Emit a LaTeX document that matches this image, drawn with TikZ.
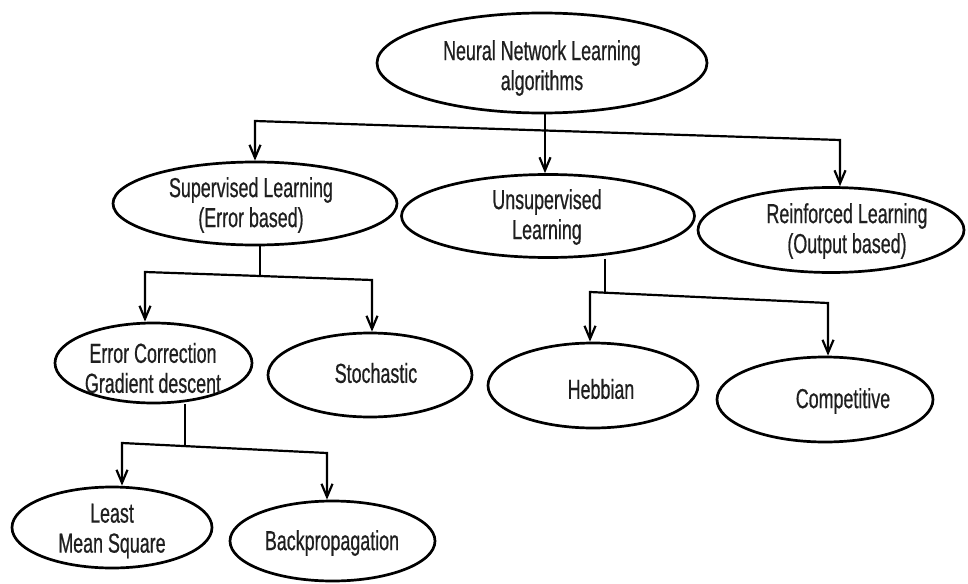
\documentclass[tikz,border=0pt]{standalone}
\usepackage{fontspec}
\setmainfont{Liberation Sans}[FakeStretch=0.65,FakeBold=0.6]
\usetikzlibrary{shapes.geometric,arrows.meta}
\begin{document}
\begin{tikzpicture}[x=1pt,y=-1pt,
  ell/.style={draw=black, line width=2.7pt, ellipse, inner sep=0pt},
  lbl/.style={font=\fontsize{27.5}{30}\selectfont, align=center, inner sep=0pt, text=black!88},
  conn/.style={draw=black, line width=2.2pt},
  arr/.style={conn, -{Straight Barb[length=13pt,width=11pt]}}]
\useasboundingbox[fill=white] (0,0) rectangle (968,583);

% ellipses
\node[ell, minimum width=330, minimum height=100] (root)  at (542,63) {};
\node[ell, minimum width=284, minimum height=83]  (sup)   at (255,203.5) {};
\node[ell, minimum width=293, minimum height=83]  (unsup) at (548,216) {};
\node[ell, minimum width=266, minimum height=85]  (reinf) at (831,230) {};
\node[ell, minimum width=197, minimum height=80]  (errc)  at (153.5,363) {};
\node[ell, minimum width=204, minimum height=84]  (stoch) at (370,375) {};
\node[ell, minimum width=210, minimum height=85]  (hebb)  at (593,385.5) {};
\node[ell, minimum width=216, minimum height=85]  (comp)  at (825,399.5) {};
\node[ell, minimum width=200, minimum height=81]  (lms)   at (112,527.5) {};
\node[ell, minimum width=205, minimum height=80]  (back)  at (332.5,541) {};

% labels
\node[lbl] (rootT)  at (542,68)  {Neural Network Learning\\algorithms};
\node[lbl] (supT)   at (251,205) {Supervised Learning\\(Error based)};
\node[lbl] (unsupT) at (547,217) {Unsupervised\\Learning};
\node[lbl] (reinfT) at (847,231) {Reinforced Learning\\(Output based)};
\node[lbl] (errcT)  at (153,368) {Error Correction\\Gradient descent};
\node[lbl] (stochT) at (376,373) {Stochastic};
\node[lbl] (hebbT)  at (601,389) {Hebbian};
\node[lbl] (compT)  at (843,401) {Competitive};
\node[lbl] (lmsT)   at (112,531) {Least\\Mean Square};
\node[lbl] (backT)  at (332,543) {Backpropagation};

% junction coordinates
\coordinate (rootL) at (255,121);
\coordinate (rootM) at (545,130.5);
\coordinate (rootR) at (840,140);
\coordinate (supL) at (145,272);
\coordinate (supM) at (260,276);
\coordinate (supR) at (372,280);
\coordinate (unsL) at (590,292);
\coordinate (unsM) at (605,292.7);
\coordinate (unsR) at (828,303);
\coordinate (errL) at (122,443);
\coordinate (errM) at (185,446.1);
\coordinate (errR) at (327,453);

% connectors
\draw[conn] (root.south -| rootM) -- (rootM);
\draw[arr] (rootM) -- (rootL) -- (rootL |- sup.north);
\draw[arr] (rootM) -- (rootM |- unsup.north);
\draw[arr] (rootM) -- (rootR) -- (rootR |- reinf.north);

\draw[conn] (sup.south -| supM) -- (supM);
\draw[arr] (supM) -- (supL) -- (supL |- errc.north);
\draw[arr] (supM) -- (supR) -- (supR |- stoch.north);

\draw[conn] (unsup.south -| unsM) -- (unsM);
\draw[arr] (unsM) -- (unsL) -- (unsL |- hebb.north);
\draw[arr] (unsM) -- (unsR) -- (unsR |- comp.north);

\draw[conn] (errc.south -| errM) -- (errM);
\draw[arr] (errM) -- (errL) -- (errL |- lms.north);
\draw[arr] (errM) -- (errR) -- (errR |- back.north);
\end{tikzpicture}
\end{document}
